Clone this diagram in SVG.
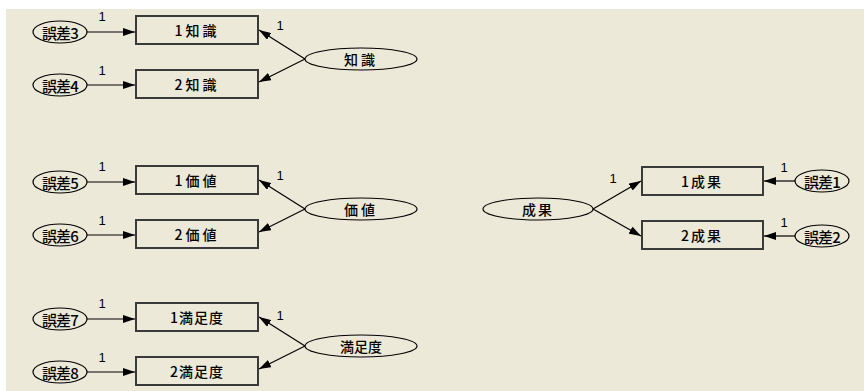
<svg xmlns="http://www.w3.org/2000/svg" width="864" height="391" viewBox="0 0 864 391">
<style>
.bg{fill:#ECE9D8}
.box{fill:#ECE9D8;stroke:#3a3a3a;stroke-width:2}
.el{fill:#ECE9D8;stroke:#000;stroke-width:1.2}
.t{font-family:"Noto Sans CJK JP","Noto Sans CJK SC",sans-serif;font-size:14px;font-weight:500;fill:#000;text-anchor:middle;dominant-baseline:central}
.te{font-family:"Noto Sans CJK JP","Noto Sans CJK SC",sans-serif;font-size:15px;font-weight:500;fill:#000;text-anchor:middle;dominant-baseline:central;letter-spacing:-0.8px}
.n{font-family:"Liberation Sans",Arial,sans-serif;font-size:13px;fill:#000;text-anchor:middle}
.c{stroke:#000;stroke-width:1.2;fill:none;marker-end:url(#ah)}
</style>
<defs>
<marker id="ah" viewBox="0 0 12 8" refX="12" refY="4" markerWidth="12" markerHeight="8" markerUnits="userSpaceOnUse" orient="auto">
<path d="M0,0 L12,4 L0,8 z" fill="#000"/>
</marker>
</defs>
<rect x="0" y="0" width="864" height="391" fill="#fff"/>
<rect class="bg" x="6" y="9" width="858" height="382"/>

<g id="connectors">
<line class="c" x1="87" y1="32" x2="135" y2="32"/>
<line class="c" x1="87" y1="85" x2="135" y2="85"/>
<line class="c" x1="305" y1="59" x2="259" y2="30"/>
<line class="c" x1="305" y1="59" x2="259" y2="82"/>
<line class="c" x1="87" y1="182" x2="135" y2="182"/>
<line class="c" x1="87" y1="235" x2="135" y2="235"/>
<line class="c" x1="305" y1="209" x2="259" y2="180"/>
<line class="c" x1="305" y1="209" x2="259" y2="232"/>
<line class="c" x1="87" y1="319" x2="135" y2="319"/>
<line class="c" x1="87" y1="372" x2="135" y2="372"/>
<line class="c" x1="305" y1="346" x2="259" y2="317"/>
<line class="c" x1="305" y1="346" x2="259" y2="369"/>
<line class="c" x1="593" y1="209" x2="641" y2="181"/>
<line class="c" x1="593" y1="209" x2="641" y2="236"/>
<line class="c" x1="795" y1="181" x2="764" y2="181"/>
<line class="c" x1="795" y1="236" x2="764" y2="236"/>
<text class="n" x="102" y="21">1</text>
<text class="n" x="102" y="75">1</text>
<text class="n" x="280" y="30">1</text>
<text class="n" x="102" y="171">1</text>
<text class="n" x="102" y="225">1</text>
<text class="n" x="280" y="180">1</text>
<text class="n" x="102" y="308">1</text>
<text class="n" x="102" y="362">1</text>
<text class="n" x="280" y="320">1</text>
<text class="n" x="613" y="183">1</text>
<text class="n" x="784" y="172">1</text>
<text class="n" x="784" y="227">1</text>
</g>

<g id="e3"><ellipse class="el" cx="60" cy="32" rx="27" ry="11"/><text class="te" x="60" y="32">誤差3</text></g>
<g id="e4"><ellipse class="el" cx="60" cy="85" rx="27" ry="11"/><text class="te" x="60" y="85">誤差4</text></g>
<g id="e5"><ellipse class="el" cx="60" cy="182" rx="27" ry="11"/><text class="te" x="60" y="182">誤差5</text></g>
<g id="e6"><ellipse class="el" cx="60" cy="235" rx="27" ry="11"/><text class="te" x="60" y="235">誤差6</text></g>
<g id="e7"><ellipse class="el" cx="60" cy="319" rx="27" ry="11"/><text class="te" x="60" y="319">誤差7</text></g>
<g id="e8"><ellipse class="el" cx="60" cy="372" rx="27" ry="11"/><text class="te" x="60" y="372">誤差8</text></g>
<g id="e1"><ellipse class="el" cx="822" cy="181" rx="27" ry="11"/><text class="te" x="822" y="181">誤差1</text></g>
<g id="e2"><ellipse class="el" cx="822" cy="236" rx="27" ry="11"/><text class="te" x="822" y="236">誤差2</text></g>

<g id="b1chishiki"><rect class="box" x="136" y="16" width="122" height="28"/><text class="t" x="197" y="30" letter-spacing="3">1知識</text></g>
<g id="b2chishiki"><rect class="box" x="136" y="70" width="122" height="28"/><text class="t" x="197" y="84" letter-spacing="3">2知識</text></g>
<g id="b1kachi"><rect class="box" x="136" y="166" width="122" height="28"/><text class="t" x="197" y="180" letter-spacing="3">1価値</text></g>
<g id="b2kachi"><rect class="box" x="136" y="220" width="122" height="28"/><text class="t" x="197" y="234" letter-spacing="3">2価値</text></g>
<g id="b1manzoku"><rect class="box" x="136" y="303" width="122" height="28"/><text class="t" x="197" y="317" letter-spacing="1">1満足度</text></g>
<g id="b2manzoku"><rect class="box" x="136" y="357" width="122" height="28"/><text class="t" x="197" y="371" letter-spacing="1">2満足度</text></g>
<g id="b1seika"><rect class="box" x="642" y="167" width="121" height="28"/><text class="t" x="702" y="181" letter-spacing="2">1成果</text></g>
<g id="b2seika"><rect class="box" x="642" y="221" width="121" height="28"/><text class="t" x="702" y="235" letter-spacing="2">2成果</text></g>

<g id="f_chishiki"><ellipse class="el" cx="361" cy="59" rx="56" ry="11"/><text class="t" x="361" y="59" letter-spacing="3">知識</text></g>
<g id="f_kachi"><ellipse class="el" cx="361" cy="209" rx="56" ry="11"/><text class="t" x="361" y="209" letter-spacing="3">価値</text></g>
<g id="f_manzoku"><ellipse class="el" cx="361" cy="346" rx="56" ry="11"/><text class="t" x="361" y="346">満足度</text></g>
<g id="f_seika"><ellipse class="el" cx="538" cy="209" rx="55" ry="11"/><text class="t" x="538" y="209" letter-spacing="2">成果</text></g>
</svg>
